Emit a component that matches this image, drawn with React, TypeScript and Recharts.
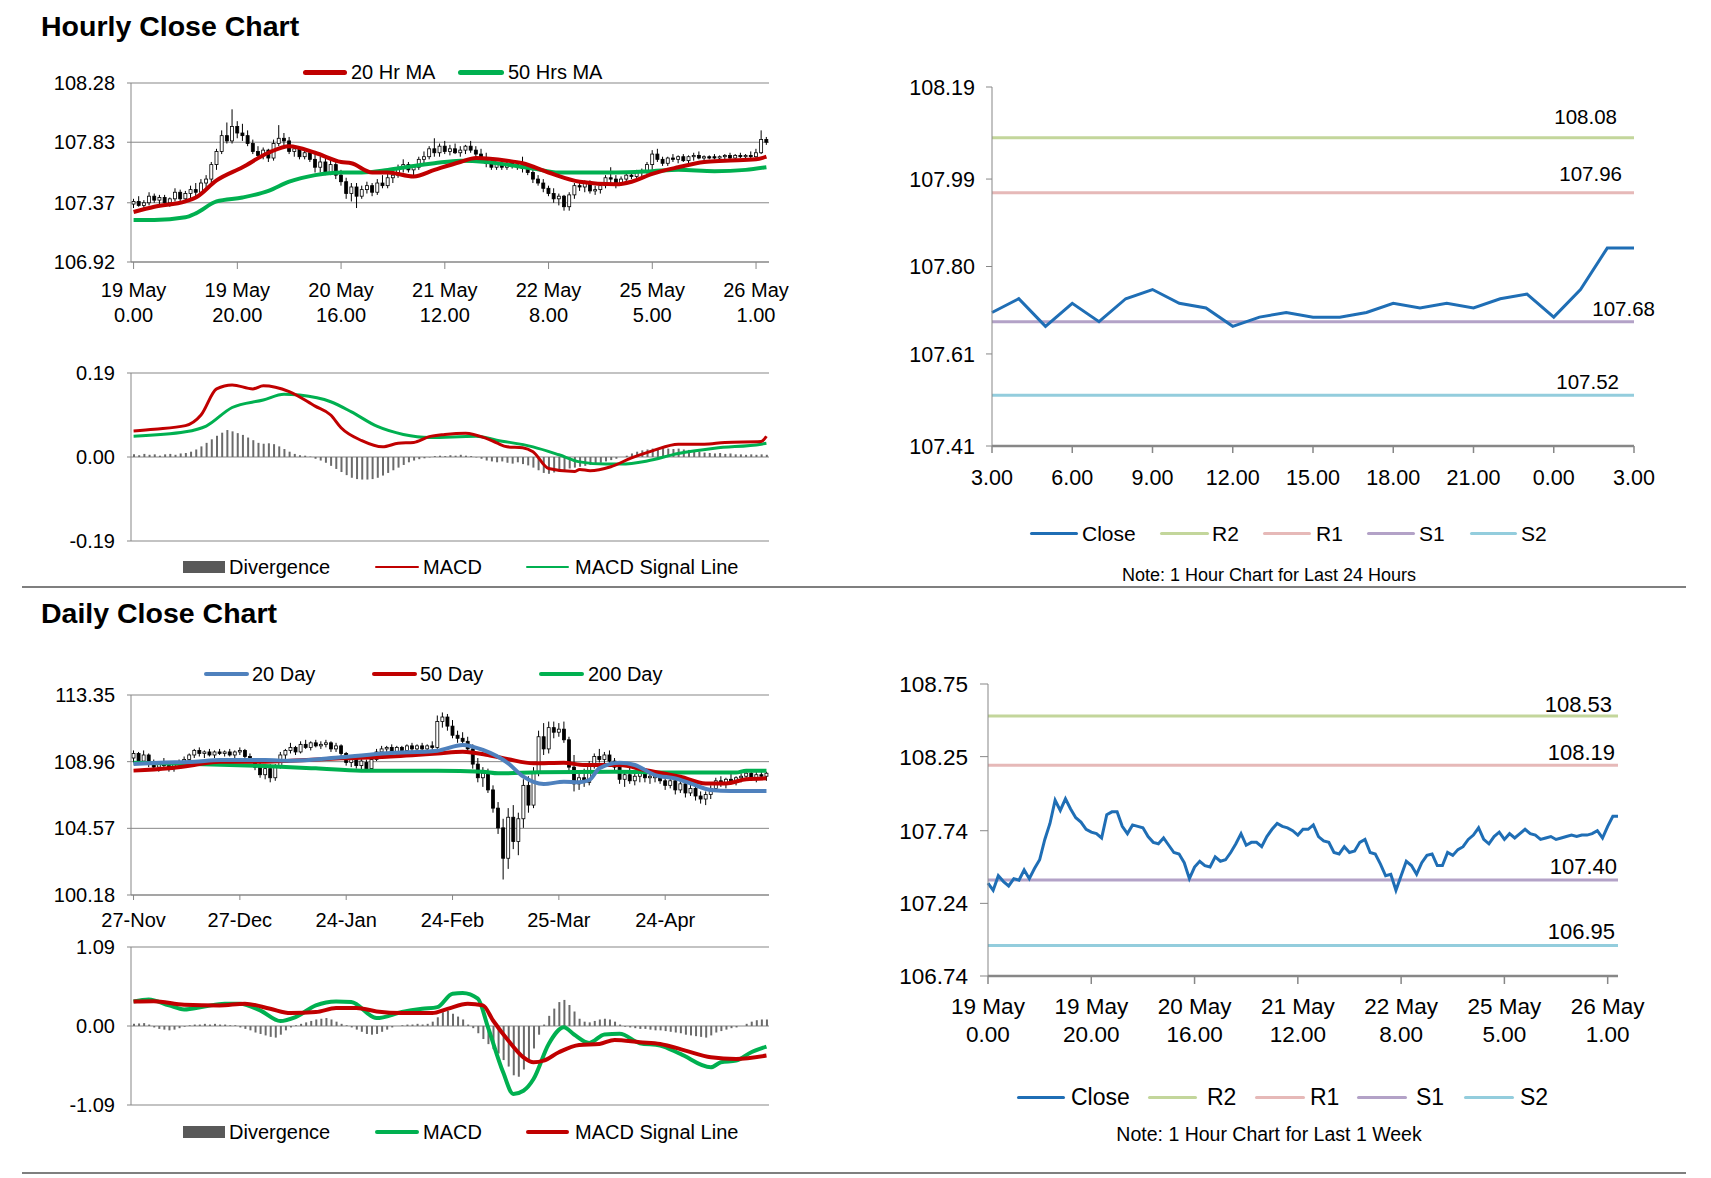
import React from 'react'
import {
  ComposedChart,
  LineChart,
  Line,
  Bar,
  XAxis,
  YAxis,
  CartesianGrid,
  ReferenceLine,
} from 'recharts'

const FONT = '"Liberation Sans", Arial, Helvetica, sans-serif'
const GRID = '#878787'
const RED = '#C00000'
const GREEN = '#00B050'
const MA_BLUE = '#4F81BD'
const CLOSE_BLUE = '#1F6EB5'
const DIV_GREY = '#6b6b6b'
const LEVEL_COLORS = ['#C3D69B', '#E6B9B8', '#B3A2C7', '#93CDDD']

// ---------- hourly candles (open, high, low, close) ----------
const hourlyCandles: number[][] = [
  [107.36, 107.4, 107.33, 107.38], [107.38, 107.42, 107.34, 107.35], [107.35, 107.39, 107.32, 107.37],
  [107.37, 107.45, 107.35, 107.42], [107.42, 107.44, 107.37, 107.39], [107.39, 107.43, 107.36, 107.41],
  [107.41, 107.43, 107.35, 107.37], [107.37, 107.41, 107.34, 107.4], [107.4, 107.48, 107.38, 107.45],
  [107.45, 107.47, 107.38, 107.4], [107.4, 107.46, 107.37, 107.44], [107.44, 107.5, 107.4, 107.47],
  [107.47, 107.52, 107.42, 107.45], [107.45, 107.55, 107.43, 107.52], [107.52, 107.58, 107.48, 107.55],
  [107.55, 107.68, 107.52, 107.66], [107.66, 107.78, 107.62, 107.76], [107.76, 107.92, 107.74, 107.88],
  [107.88, 107.98, 107.82, 107.84], [107.84, 108.08, 107.82, 107.95], [107.95, 107.99, 107.86, 107.9],
  [107.9, 107.97, 107.84, 107.88], [107.88, 107.92, 107.8, 107.82], [107.82, 107.85, 107.74, 107.76],
  [107.76, 107.8, 107.71, 107.73], [107.73, 107.79, 107.7, 107.77], [107.77, 107.78, 107.68, 107.71],
  [107.71, 107.85, 107.69, 107.82], [107.82, 107.96, 107.8, 107.86], [107.86, 107.9, 107.8, 107.84],
  [107.84, 107.87, 107.74, 107.76], [107.76, 107.8, 107.72, 107.78], [107.78, 107.8, 107.7, 107.72],
  [107.72, 107.78, 107.7, 107.75], [107.75, 107.77, 107.68, 107.7], [107.7, 107.74, 107.6, 107.64],
  [107.64, 107.72, 107.6, 107.68], [107.68, 107.72, 107.58, 107.6], [107.6, 107.7, 107.58, 107.66],
  [107.66, 107.68, 107.55, 107.58], [107.58, 107.62, 107.5, 107.53], [107.53, 107.56, 107.4, 107.44],
  [107.44, 107.52, 107.38, 107.49], [107.49, 107.52, 107.33, 107.42], [107.42, 107.5, 107.4, 107.47],
  [107.47, 107.53, 107.44, 107.5], [107.5, 107.52, 107.42, 107.45], [107.45, 107.55, 107.43, 107.52],
  [107.52, 107.58, 107.48, 107.5], [107.5, 107.6, 107.48, 107.56], [107.56, 107.6, 107.52, 107.58],
  [107.58, 107.66, 107.56, 107.63], [107.63, 107.7, 107.6, 107.66], [107.66, 107.68, 107.6, 107.62],
  [107.62, 107.66, 107.58, 107.64], [107.64, 107.72, 107.62, 107.7], [107.7, 107.76, 107.66, 107.72],
  [107.72, 107.8, 107.7, 107.78], [107.78, 107.86, 107.72, 107.75], [107.75, 107.82, 107.72, 107.8],
  [107.8, 107.84, 107.74, 107.76], [107.76, 107.81, 107.73, 107.78], [107.78, 107.82, 107.74, 107.75],
  [107.75, 107.8, 107.72, 107.77], [107.77, 107.81, 107.74, 107.8], [107.8, 107.84, 107.75, 107.77],
  [107.77, 107.8, 107.72, 107.74], [107.74, 107.78, 107.68, 107.7], [107.7, 107.75, 107.64, 107.67],
  [107.67, 107.7, 107.62, 107.64], [107.64, 107.68, 107.62, 107.66], [107.66, 107.68, 107.62, 107.64],
  [107.64, 107.7, 107.62, 107.67], [107.67, 107.69, 107.63, 107.65], [107.65, 107.68, 107.62, 107.66],
  [107.66, 107.72, 107.6, 107.63], [107.63, 107.66, 107.58, 107.6], [107.6, 107.64, 107.52, 107.55],
  [107.55, 107.58, 107.5, 107.52], [107.52, 107.55, 107.45, 107.48], [107.48, 107.5, 107.42, 107.44],
  [107.44, 107.48, 107.37, 107.4], [107.4, 107.44, 107.35, 107.42], [107.42, 107.43, 107.31, 107.34],
  [107.34, 107.45, 107.31, 107.43], [107.43, 107.52, 107.4, 107.5], [107.5, 107.53, 107.46, 107.49],
  [107.49, 107.54, 107.45, 107.52], [107.52, 107.54, 107.44, 107.46], [107.46, 107.5, 107.43, 107.47],
  [107.47, 107.52, 107.44, 107.5], [107.5, 107.58, 107.48, 107.56], [107.56, 107.64, 107.52, 107.55],
  [107.55, 107.58, 107.48, 107.52], [107.52, 107.57, 107.5, 107.55], [107.55, 107.6, 107.53, 107.58],
  [107.58, 107.6, 107.55, 107.57], [107.57, 107.62, 107.55, 107.6], [107.6, 107.63, 107.57, 107.61],
  [107.61, 107.68, 107.59, 107.66], [107.66, 107.77, 107.62, 107.74], [107.74, 107.78, 107.68, 107.7],
  [107.7, 107.72, 107.65, 107.67], [107.67, 107.72, 107.65, 107.71], [107.71, 107.74, 107.68, 107.7],
  [107.7, 107.73, 107.67, 107.72], [107.72, 107.74, 107.68, 107.69], [107.69, 107.73, 107.67, 107.72],
  [107.72, 107.75, 107.69, 107.73], [107.73, 107.76, 107.7, 107.71], [107.71, 107.73, 107.69, 107.72],
  [107.72, 107.73, 107.7, 107.71], [107.72, 107.74, 107.7, 107.71], [107.71, 107.73, 107.7, 107.72],
  [107.72, 107.74, 107.7, 107.73], [107.73, 107.75, 107.7, 107.71], [107.71, 107.74, 107.7, 107.73],
  [107.73, 107.75, 107.71, 107.72], [107.72, 107.74, 107.69, 107.73], [107.73, 107.76, 107.71, 107.72],
  [107.72, 107.78, 107.7, 107.75], [107.75, 107.92, 107.74, 107.85], [107.85, 107.87, 107.81, 107.83],
]

// moving averages read at candle index: [index, value]
const hourlyMa20: number[][] = [
  [0, 107.3], [4, 107.34], [10, 107.38], [12, 107.41], [16, 107.54], [21, 107.64], [26, 107.75],
  [30, 107.8], [35, 107.75], [40, 107.68], [42, 107.67], [46, 107.6], [49, 107.6], [54, 107.57],
  [58, 107.62], [63, 107.68], [66, 107.71], [72, 107.69], [75, 107.67], [80, 107.6], [86, 107.53],
  [93, 107.51], [96, 107.53], [100, 107.59], [105, 107.64], [110, 107.68], [114, 107.69],
  [120, 107.7], [122, 107.72],
]
const hourlyMa50: number[][] = [
  [0, 107.24], [4, 107.24], [10, 107.26], [12, 107.29], [16, 107.38], [21, 107.41], [26, 107.46],
  [30, 107.53], [35, 107.58], [40, 107.6], [44, 107.6], [49, 107.62], [54, 107.65], [58, 107.67],
  [63, 107.69], [68, 107.68], [72, 107.66], [77, 107.63], [82, 107.6], [86, 107.6], [93, 107.6],
  [100, 107.61], [105, 107.62], [112, 107.61], [118, 107.62], [122, 107.64],
]
const hourlyTicks = [0, 20, 40, 60, 80, 100, 120]
const hourlyTickLabels = [
  ['19 May', '0.00'], ['19 May', '20.00'], ['20 May', '16.00'], ['21 May', '12.00'],
  ['22 May', '8.00'], ['25 May', '5.00'], ['26 May', '1.00'],
]

// ---------- hourly MACD ----------
const hourlyDivergence = [
  0.006, 0.004, 0.007, 0.005, 0.006, 0.003, 0.006, 0.007, 0.005, 0.008,
  0.009, 0.012, 0.017, 0.024, 0.032, 0.04, 0.048, 0.055, 0.061, 0.058,
  0.054, 0.05, 0.044, 0.038, 0.032, 0.03, 0.031, 0.029, 0.024, 0.018,
  0.012, 0.007, 0.004, 0.003, 0.001, -0.004, -0.008, -0.013, -0.02, -0.027,
  -0.034, -0.041, -0.047, -0.05, -0.051, -0.051, -0.05, -0.047, -0.042, -0.036,
  -0.03, -0.024, -0.018, -0.012, -0.008, -0.005, -0.003, -0.001, 0.002, 0.003,
  0.002, 0.004, 0.003, 0.005, 0.003, 0.002, -0.001, -0.004, -0.008, -0.01,
  -0.012, -0.01, -0.013, -0.015, -0.012, -0.016, -0.019, -0.024, -0.03, -0.036,
  -0.038, -0.035, -0.033, -0.03, -0.026, -0.024, -0.022, -0.02, -0.018, -0.016,
  -0.013, -0.01, -0.007, -0.004, 0.0, 0.003, 0.008, 0.012, 0.015, 0.017,
  0.019, 0.018, 0.02, 0.019, 0.018, 0.019, 0.017, 0.016, 0.014, 0.012,
  0.01, 0.009, 0.008, 0.009, 0.007, 0.008, 0.006, 0.006, 0.005, 0.006,
  0.005, 0.006, 0.005,
]
const hourlyMacd: number[][] = [
  [0, 0.059], [4, 0.063], [10, 0.071], [13, 0.095], [16, 0.154], [19, 0.163], [23, 0.154],
  [25, 0.161], [30, 0.148], [35, 0.115], [38, 0.095], [40, 0.066], [44, 0.037], [48, 0.023],
  [51, 0.031], [54, 0.033], [57, 0.046], [60, 0.051], [64, 0.054], [68, 0.042], [70, 0.032],
  [72, 0.023], [75, 0.021], [77, 0.012], [80, -0.026], [85, -0.033], [86, -0.028], [88, -0.031],
  [92, -0.022], [96, -0.002], [100, 0.014], [105, 0.029], [110, 0.029], [114, 0.033],
  [121, 0.035], [122, 0.047],
]
const hourlySignal: number[][] = [
  [0, 0.047], [10, 0.057], [14, 0.07], [19, 0.112], [25, 0.129], [29, 0.142], [32, 0.14],
  [38, 0.125], [42, 0.102], [47, 0.069], [52, 0.051], [57, 0.044], [66, 0.047], [70, 0.038],
  [77, 0.023], [82, 0.005], [86, -0.011], [91, -0.016], [94, -0.016], [99, -0.009],
  [105, 0.008], [112, 0.02], [121, 0.029], [122, 0.031],
]

// ---------- last 24 hours ----------
const hours24 = [
  '3.00', '4.00', '5.00', '6.00', '7.00', '8.00', '9.00', '10.00', '11.00', '12.00', '13.00',
  '14.00', '15.00', '16.00', '17.00', '18.00', '19.00', '20.00', '21.00', '22.00', '23.00',
  '0.00', '1.00', '2.00', '3.00',
]
const close24 = [
  107.7, 107.73, 107.67, 107.72, 107.68, 107.73, 107.75, 107.72, 107.71, 107.67, 107.69,
  107.7, 107.69, 107.69, 107.7, 107.72, 107.71, 107.72, 107.71, 107.73, 107.74,
  107.69, 107.75, 107.84, 107.84,
]
const levelNames = ['R2', 'R1', 'S1', 'S2']
const levels24 = [108.08, 107.96, 107.68, 107.52]

// ---------- last week ----------
const closeWeek = [
  107.38, 107.33, 107.43, 107.39, 107.36, 107.41, 107.4, 107.47, 107.41, 107.48,
  107.54, 107.68, 107.79, 107.95, 107.88, 107.96, 107.89, 107.83, 107.8, 107.75,
  107.73, 107.72, 107.69, 107.85, 107.87, 107.87, 107.77, 107.72, 107.78, 107.77,
  107.76, 107.7, 107.66, 107.65, 107.69, 107.64, 107.59, 107.58, 107.52, 107.41,
  107.49, 107.53, 107.5, 107.49, 107.56, 107.53, 107.54, 107.59, 107.65, 107.72,
  107.64, 107.66, 107.66, 107.63, 107.7, 107.75, 107.79, 107.77, 107.76, 107.74,
  107.71, 107.75, 107.75, 107.78, 107.7, 107.67, 107.66, 107.59, 107.58, 107.63,
  107.59, 107.6, 107.66, 107.68, 107.59, 107.58, 107.51, 107.43, 107.44, 107.33,
  107.43, 107.53, 107.5, 107.44, 107.52, 107.57, 107.58, 107.5, 107.5, 107.59,
  107.57, 107.61, 107.63, 107.68, 107.71, 107.76, 107.68, 107.65, 107.7, 107.73,
  107.68, 107.72, 107.69, 107.72, 107.75, 107.72, 107.71, 107.68, 107.69, 107.7,
  107.68, 107.69, 107.7, 107.71, 107.7, 107.71, 107.71, 107.72, 107.74, 107.69,
  107.77, 107.84, 107.84,
]
const weekTicks = [0, 20, 40, 60, 80, 100, 120]
const weekTickLabels = hourlyTickLabels
const levelsWeek = [108.53, 108.19, 107.4, 106.95]

// ---------- daily candles (open, high, low, close) ----------
const dailyCandles: number[][] = [
  [109.2, 109.7, 108.9, 109.5], [109.5, 109.6, 108.9, 109.0], [109.0, 109.7, 108.8, 109.4], [109.4, 109.5, 108.6, 108.8],
  [108.8, 109.1, 108.4, 108.6], [108.6, 109.0, 108.3, 108.9], [108.9, 109.2, 108.5, 108.7], [108.7, 108.9, 108.3, 108.5],
  [108.5, 109.0, 108.3, 108.8], [108.8, 109.1, 108.5, 108.9], [108.9, 109.3, 108.6, 109.1], [109.1, 109.5, 108.9, 109.4],
  [109.4, 109.8, 109.2, 109.7], [109.7, 109.9, 109.3, 109.5], [109.5, 109.7, 109.2, 109.6], [109.6, 109.8, 109.3, 109.4],
  [109.4, 109.7, 109.2, 109.6], [109.6, 109.8, 109.4, 109.5], [109.5, 109.7, 109.3, 109.6], [109.6, 109.8, 109.3, 109.4],
  [109.4, 109.7, 109.2, 109.6], [109.6, 109.9, 109.4, 109.7], [109.7, 109.8, 109.2, 109.3], [109.3, 109.5, 108.9, 109.1],
  [109.1, 109.2, 108.4, 108.6], [108.6, 108.9, 107.9, 108.1], [108.1, 108.7, 107.8, 108.5], [108.5, 108.8, 107.6, 107.9],
  [107.9, 108.8, 107.7, 108.7], [108.7, 109.6, 108.5, 109.4], [109.4, 109.8, 109.1, 109.7], [109.7, 110.2, 109.5, 109.9],
  [109.9, 110.0, 109.4, 109.6], [109.6, 110.3, 109.5, 110.1], [110.1, 110.4, 109.8, 109.9], [109.9, 110.3, 109.7, 110.2],
  [110.2, 110.4, 109.9, 110.0], [110.0, 110.3, 109.8, 110.1], [110.1, 110.4, 109.9, 110.2], [110.2, 110.3, 109.6, 109.8],
  [109.8, 110.2, 109.6, 110.0], [110.0, 110.1, 109.3, 109.5], [109.5, 109.6, 108.7, 108.9], [108.9, 109.3, 108.6, 109.1],
  [109.1, 109.3, 108.5, 108.7], [108.7, 109.2, 108.4, 109.0], [108.9, 109.1, 108.3, 108.5], [108.5, 109.3, 108.4, 109.1],
  [109.1, 109.8, 109.0, 109.6], [109.6, 110.0, 109.4, 109.8], [109.8, 110.0, 109.5, 109.9], [109.9, 110.1, 109.4, 109.6],
  [109.6, 110.0, 109.4, 109.9], [109.9, 110.0, 109.5, 109.7], [109.7, 110.1, 109.5, 110.0], [110.0, 110.2, 109.6, 109.8],
  [109.8, 110.1, 109.5, 110.0], [110.0, 110.2, 109.7, 109.8], [109.8, 110.1, 109.6, 110.0], [110.0, 110.3, 109.7, 109.9],
  [109.9, 112.0, 109.8, 111.6], [111.6, 112.2, 111.2, 111.9], [111.9, 112.1, 111.0, 111.3], [111.3, 111.7, 110.5, 110.7],
  [110.7, 111.0, 110.2, 110.5], [110.5, 110.9, 110.1, 110.3], [110.3, 110.6, 109.6, 109.8], [109.8, 110.1, 108.5, 108.8],
  [108.8, 109.2, 107.6, 107.9], [107.9, 108.6, 107.3, 108.2], [108.2, 108.5, 106.9, 107.1], [107.1, 107.4, 105.6, 105.9],
  [105.9, 106.3, 104.2, 104.6], [104.6, 105.2, 101.2, 102.6], [102.6, 105.9, 101.9, 105.3], [105.3, 106.1, 103.2, 103.7],
  [103.7, 105.6, 102.8, 105.2], [105.2, 107.8, 104.6, 107.4], [107.4, 108.0, 105.6, 106.1], [106.1, 108.6, 105.9, 108.3],
  [108.3, 111.0, 108.0, 110.6], [110.6, 111.5, 109.4, 109.8], [109.8, 111.6, 109.5, 111.2], [111.2, 111.6, 110.5, 110.9],
  [110.9, 111.5, 110.6, 111.1], [111.1, 111.6, 110.2, 110.4], [110.4, 110.6, 108.3, 108.6], [108.6, 109.4, 107.0, 107.5],
  [107.5, 108.2, 107.1, 107.9], [107.9, 108.5, 107.3, 107.6], [107.6, 109.0, 107.4, 108.8], [108.8, 109.5, 108.5, 109.3],
  [109.3, 109.8, 108.9, 109.1], [109.1, 109.6, 108.7, 109.4], [109.4, 109.7, 108.8, 109.0], [109.0, 109.2, 108.3, 108.6],
  [108.6, 108.8, 107.5, 107.8], [107.8, 108.4, 107.3, 108.1], [108.1, 108.6, 107.5, 107.7], [107.7, 108.3, 107.4, 108.0],
  [108.0, 108.5, 107.6, 108.3], [108.3, 108.5, 107.6, 107.9], [107.9, 108.2, 107.5, 108.0], [107.9, 108.3, 107.6, 108.1],
  [108.1, 108.2, 107.5, 107.7], [107.7, 108.0, 107.1, 107.4], [107.4, 107.9, 107.2, 107.7], [107.7, 107.9, 106.8, 107.1],
  [107.1, 107.7, 106.9, 107.5], [107.5, 107.6, 106.6, 106.9], [106.9, 107.5, 106.7, 107.2], [107.2, 107.3, 106.4, 106.7],
  [106.7, 107.0, 106.2, 106.5], [106.5, 107.0, 106.1, 106.8], [106.8, 107.4, 106.5, 107.2], [107.2, 107.9, 107.0, 107.7],
  [107.7, 108.0, 107.3, 107.5], [107.5, 107.9, 107.2, 107.8], [107.8, 108.2, 107.5, 107.7], [107.7, 108.0, 107.4, 107.9],
  [107.9, 108.2, 107.6, 108.0], [108.0, 108.4, 107.7, 108.2], [108.2, 108.3, 107.7, 107.9], [107.9, 108.3, 107.6, 108.1],
  [108.1, 108.4, 107.8, 108.0], [108.0, 108.3, 107.7, 108.2],
]
const dailyMa20: number[][] = [
  [0, 108.81], [5, 108.89], [12, 108.96], [17, 109.07], [26, 109.07], [31, 109.02], [41, 109.25],
  [50, 109.51], [60, 109.68], [65, 110.06], [69, 109.73], [74, 108.85], [77, 107.97], [81, 107.49],
  [85, 107.64], [88, 107.6], [90, 107.75], [92, 108.52], [96, 108.89], [99, 108.74], [103, 108.08],
  [107, 107.86], [110, 107.53], [114, 107.09], [118, 107.03], [125, 107.03],
]
const dailyMa50: number[][] = [
  [0, 108.37], [7, 108.52], [12, 108.74], [17, 108.96], [26, 108.96], [31, 109.02], [41, 109.18],
  [50, 109.29], [60, 109.5], [65, 109.62], [70, 109.4], [74, 109.12], [79, 108.85], [85, 108.89],
  [89, 108.74], [96, 108.74], [101, 108.41], [108, 107.97], [113, 107.53], [117, 107.53],
  [121, 107.8], [125, 107.86],
]
const dailyMa200: number[][] = [
  [0, 108.89], [12, 108.81], [26, 108.67], [36, 108.52], [45, 108.37], [60, 108.37], [69, 108.3],
  [72, 108.19], [80, 108.26], [95, 108.3], [108, 108.24], [119, 108.24], [121, 108.37], [125, 108.37],
]
const dailyTicks = [0, 21, 42, 63, 84, 105]
const dailyTickLabels = ['27-Nov', '27-Dec', '24-Jan', '24-Feb', '25-Mar', '24-Apr']

// ---------- daily MACD ----------
const dailyDivergence = [
  0.03, 0.035, 0.04, 0.02, -0.02, -0.04, -0.05, -0.06, -0.05, -0.03,
  -0.01, 0.01, 0.02, 0.02, 0.03, 0.02, 0.03, 0.02, 0.02, 0.01, 0.01,
  -0.02, -0.04, -0.06, -0.09, -0.11, -0.13, -0.15, -0.16, -0.12, -0.06,
  -0.02, 0.01, 0.03, 0.05, 0.07, 0.09, 0.1, 0.11, 0.09, 0.06,
  0.03, 0.01, -0.02, -0.05, -0.08, -0.11, -0.12, -0.11, -0.08, -0.05,
  -0.02, 0.0, 0.01, 0.02, 0.02, 0.03, 0.02, 0.03, 0.06, 0.12, 0.19, 0.21, 0.17,
  0.13, 0.09, 0.02, -0.03, -0.1, -0.18, -0.25, -0.32, -0.38, -0.47, -0.56, -0.68, -0.7, -0.6, -0.49, -0.31,
  -0.12, 0.02, 0.14, 0.24, 0.33, 0.36, 0.29, 0.2,
  0.1, 0.06, 0.05, 0.07, 0.09, 0.1, 0.09, 0.06,
  0.02, -0.01, -0.02, -0.03, -0.04,
  -0.04, -0.05, -0.06, -0.06, -0.07, -0.08, -0.09, -0.1, -0.12, -0.13, -0.14, -0.15, -0.16, -0.13,
  -0.09, -0.07, -0.05, -0.03, -0.02, 0.0, 0.03, 0.06, 0.08, 0.09, 0.09,
]
const dailyMacd: number[][] = [
  [0, 0.338], [3, 0.367], [7, 0.284], [10, 0.229], [14, 0.27], [18, 0.308], [21, 0.308], [25, 0.215],
  [29, 0.068], [32, 0.123], [36, 0.284], [40, 0.339], [43, 0.33], [48, 0.109], [53, 0.192],
  [57, 0.237], [60, 0.261], [63, 0.446], [65, 0.455], [68, 0.377], [70, -0.017], [73, -0.639],
  [75, -0.938], [77, -0.893], [79, -0.731], [82, -0.247], [85, -0.017], [87, -0.117], [90, -0.233],
  [93, -0.117], [96, -0.108], [100, -0.237], [104, -0.269], [108, -0.385], [114, -0.57],
  [116, -0.501], [119, -0.478], [122, -0.362], [125, -0.284],
]
const dailySignal: number[][] = [
  [0, 0.338], [4, 0.343], [10, 0.294], [17, 0.284], [22, 0.308], [27, 0.237], [31, 0.178],
  [36, 0.192], [40, 0.247], [44, 0.25], [48, 0.201], [53, 0.178], [59, 0.18], [62, 0.237],
  [66, 0.308], [69, 0.284], [71, 0.076], [74, -0.2], [77, -0.432], [79, -0.501], [81, -0.478],
  [84, -0.362], [88, -0.261], [92, -0.247], [95, -0.192], [100, -0.224], [104, -0.247],
  [109, -0.339], [114, -0.432], [119, -0.454], [125, -0.408],
]

// ---------- helpers ----------
const pick = (pts: number[][], i: number) => {
  const p = pts.find((q) => q[0] === i)
  return p ? p[1] : null
}

const hourlyRows = hourlyCandles.map((c, i) => ({
  i, o: c[0], h: c[1], l: c[2], c: c[3], range: [c[2], c[1]],
  ma20: pick(hourlyMa20, i), ma50: pick(hourlyMa50, i),
}))
const hourlyMacdRows = hourlyDivergence.map((d, i) => ({
  i, div: d, macd: pick(hourlyMacd, i), signal: pick(hourlySignal, i),
}))
const dailyRows = dailyCandles.map((c, i) => ({
  i, o: c[0], h: c[1], l: c[2], c: c[3], range: [c[2], c[1]],
  ma20: pick(dailyMa20, i), ma50: pick(dailyMa50, i), ma200: pick(dailyMa200, i),
}))
const dailyMacdRows = dailyDivergence.map((d, i) => ({
  i, div: d, macd: pick(dailyMacd, i), signal: pick(dailySignal, i),
}))
const rows24 = close24.map((v, i) => ({ i, close: v }))
const rowsWeek = closeWeek.map((v, i) => ({ i, close: v }))

const fmt = (v: number) => v.toFixed(2)

const Candle = (props: any) => {
  const { x, y, width, height, payload } = props
  if (x == null || !payload) return null
  const top = Math.min(y, y + height)
  const hh = Math.abs(height)
  const span = payload.h - payload.l || 1
  const py = (v: number) => top + ((payload.h - v) / span) * hh
  const yo = py(payload.o)
  const yc = py(payload.c)
  const cx = x + width / 2
  const up = payload.c >= payload.o
  return (
    <g>
      <line x1={cx} x2={cx} y1={top} y2={top + hh} stroke="#000" strokeWidth={1} />
      <rect
        x={x}
        y={Math.min(yo, yc)}
        width={width}
        height={Math.max(Math.abs(yc - yo), 1)}
        fill={up ? '#fff' : '#000'}
        stroke="#000"
        strokeWidth={0.8}
      />
    </g>
  )
}

const TwoLineTick = (props: any) => {
  const { x, y, payload, ticks, labels, fs, d1, d2 } = props
  const k = ticks.indexOf(payload.value)
  if (k < 0) return null
  return (
    <text x={x} y={y} textAnchor="middle" fontSize={fs} fontFamily={FONT} fill="#000">
      <tspan x={x} dy={d1}>{labels[k][0]}</tspan>
      <tspan x={x} dy={d2}>{labels[k][1]}</tspan>
    </text>
  )
}

const OneLineTick = (props: any) => {
  const { x, y, payload, label, fs, d1 } = props
  const text = label(payload.value)
  if (text == null) return null
  return (
    <text x={x} y={y + d1} textAnchor="middle" fontSize={fs} fontFamily={FONT} fill="#000">
      {text}
    </text>
  )
}

const LevelLabel = (props: any) => {
  const { viewBox, text, dx, dy, fs } = props
  if (!viewBox) return null
  return (
    <text
      x={viewBox.x + viewBox.width + dx}
      y={viewBox.y - dy}
      textAnchor="end"
      fontSize={fs}
      fontFamily={FONT}
      fill="#000"
    >
      {text}
    </text>
  )
}

const LegendItem = ({ x0, x1, x2, cy, color, thick, text, fs, box }: any) => (
  <div
    style={{
      position: 'absolute',
      left: x0,
      top: cy - fs / 2,
      height: fs,
      display: 'flex',
      alignItems: 'center',
      fontFamily: FONT,
      fontSize: fs,
      lineHeight: `${fs}px`,
      whiteSpace: 'nowrap',
      color: '#000',
    }}
  >
    <span
      style={{
        display: 'inline-block',
        width: x1 - x0,
        height: box ? 12 : thick,
        background: color,
        marginRight: x2 - x1,
        borderRadius: box ? 0 : thick / 2,
      }}
    />
    {text}
  </div>
)

const Title = ({ text, top }: any) => (
  <div
    style={{
      position: 'absolute',
      left: 41,
      top,
      fontFamily: FONT,
      fontWeight: 'bold',
      fontSize: 28.5,
      lineHeight: '28px',
      color: '#000',
      whiteSpace: 'nowrap',
    }}
  >
    {text}
  </div>
)

const Note = ({ text, cy, fs }: any) => (
  <div
    style={{
      position: 'absolute',
      left: 1069,
      width: 400,
      top: cy - fs / 2,
      textAlign: 'center',
      fontFamily: FONT,
      fontSize: fs,
      lineHeight: `${fs}px`,
      color: '#000',
      whiteSpace: 'nowrap',
    }}
  >
    {text}
  </div>
)

const Rule = ({ top }: any) => (
  <div style={{ position: 'absolute', left: 22, top, width: 1664, height: 2, background: '#7f7f7f' }} />
)

const axisLine = { stroke: GRID, strokeWidth: 1 }
const yTick = (fs: number) => ({ fontSize: fs, fill: '#000', fontFamily: FONT })

export default function App() {
  return (
    <div
      style={{
        position: 'absolute',
        left: 0,
        top: 0,
        width: 1711,
        height: 1178,
        background: '#fff',
        overflow: 'hidden',
      }}
    >
      <Title text="Hourly Close Chart" top={12} />
      <Title text="Daily Close Chart" top={599} />
      <Rule top={586} />
      <Rule top={1172} />

      {/* hourly price with moving averages */}
      <div style={{ position: 'absolute', left: 0, top: 60 }}>
        <ComposedChart width={800} height={274} data={hourlyRows} margin={{ top: 23, right: 31, bottom: 0, left: 0 }}>
          <CartesianGrid vertical={false} stroke={GRID} />
          <XAxis
            dataKey="i"
            ticks={hourlyTicks}
            interval={0}
            height={72}
            tickSize={7}
            tickMargin={2}
            axisLine={axisLine}
            tickLine={{ stroke: GRID }}
            tick={<TwoLineTick ticks={hourlyTicks} labels={hourlyTickLabels} fs={20} d1={26} d2={25} />}
          />
          <YAxis
            domain={[106.92, 108.28]}
            ticks={[106.92, 107.37, 107.83, 108.28]}
            interval={0}
            allowDataOverflow
            width={131}
            tickSize={4}
            tickMargin={12}
            tickFormatter={fmt}
            axisLine={axisLine}
            tickLine={{ stroke: GRID }}
            tick={yTick(20)}
          />
          <Bar dataKey="range" barSize={3} shape={<Candle />} isAnimationActive={false} />
          <Line dataKey="ma50" type="monotone" stroke={GREEN} strokeWidth={4} dot={false} activeDot={false} connectNulls isAnimationActive={false} />
          <Line dataKey="ma20" type="monotone" stroke={RED} strokeWidth={4} dot={false} activeDot={false} connectNulls isAnimationActive={false} />
        </ComposedChart>
      </div>
      <LegendItem x0={303} x1={347} x2={351} cy={72} color={RED} thick={5} text="20 Hr MA" fs={20} />
      <LegendItem x0={458} x1={504} x2={508} cy={72} color={GREEN} thick={5} text="50 Hrs MA" fs={20} />

      {/* hourly MACD */}
      <div style={{ position: 'absolute', left: 0, top: 340 }}>
        <ComposedChart width={800} height={216} data={hourlyMacdRows} margin={{ top: 33, right: 31, bottom: 15, left: 0 }}>
          <CartesianGrid vertical={false} stroke={GRID} />
          <XAxis dataKey="i" hide />
          <YAxis
            domain={[-0.19, 0.19]}
            ticks={[-0.19, 0, 0.19]}
            interval={0}
            allowDataOverflow
            width={131}
            tickSize={4}
            tickMargin={12}
            tickFormatter={fmt}
            axisLine={axisLine}
            tickLine={{ stroke: GRID }}
            tick={yTick(20)}
          />
          <Bar dataKey="div" barSize={2} fill={DIV_GREY} isAnimationActive={false} />
          <Line dataKey="signal" type="monotone" stroke={GREEN} strokeWidth={3} dot={false} activeDot={false} connectNulls isAnimationActive={false} />
          <Line dataKey="macd" type="monotone" stroke={RED} strokeWidth={3} dot={false} activeDot={false} connectNulls isAnimationActive={false} />
        </ComposedChart>
      </div>
      <LegendItem x0={183} x1={225} x2={229} cy={567} color="#595959" box text="Divergence" fs={20} />
      <LegendItem x0={375} x1={419} x2={423} cy={567} color={RED} thick={2.5} text="MACD" fs={20} />
      <LegendItem x0={526} x1={569} x2={575} cy={567} color={GREEN} thick={2.5} text="MACD Signal Line" fs={20} />

      {/* last 24 hours */}
      <div style={{ position: 'absolute', left: 820, top: 60 }}>
        <LineChart width={840} height={436} data={rows24} margin={{ top: 27, right: 26, bottom: 0, left: 0 }}>
          <XAxis
            dataKey="i"
            ticks={[0, 3, 6, 9, 12, 15, 18, 21, 24]}
            interval={0}
            height={50}
            tickSize={7}
            tickMargin={2}
            axisLine={{ stroke: GRID, strokeWidth: 2.5 }}
            tickLine={{ stroke: GRID, strokeWidth: 1.5 }}
            tick={<OneLineTick label={(v: number) => hours24[v]} fs={21.5} d1={29.5} />}
          />
          <YAxis
            domain={[107.41, 108.19]}
            ticks={[107.41, 107.61, 107.8, 107.99, 108.19]}
            interval={0}
            allowDataOverflow
            width={172}
            tickSize={6}
            tickMargin={11}
            tickFormatter={fmt}
            axisLine={axisLine}
            tickLine={{ stroke: GRID }}
            tick={yTick(21.5)}
          />
          {levels24.map((lv, k) => (
            <ReferenceLine
              key={levelNames[k]}
              y={lv}
              stroke={LEVEL_COLORS[k]}
              strokeWidth={3}
              label={<LevelLabel text={fmt(lv)} dx={[-17, -12, 21, -15][k]} dy={[14, 12, 6, 6.5][k]} fs={20.5} />}
            />
          ))}
          <Line dataKey="close" type="linear" stroke={CLOSE_BLUE} strokeWidth={3} dot={false} activeDot={false} isAnimationActive={false} />
        </LineChart>
      </div>
      <LegendItem x0={1030} x1={1078} x2={1082} cy={533} color={CLOSE_BLUE} thick={3} text="Close" fs={21} />
      {levelNames.map((n, k) => (
        <LegendItem
          key={n}
          x0={[1160, 1263, 1367, 1470][k]}
          x1={[1209, 1311, 1415, 1517][k]}
          x2={[1212, 1316, 1419, 1521][k]}
          cy={533}
          color={LEVEL_COLORS[k]}
          thick={3}
          text={n}
          fs={21}
        />
      ))}
      <Note text="Note: 1 Hour Chart for Last 24 Hours" cy={575} fs={18} />

      {/* daily price with moving averages */}
      <div style={{ position: 'absolute', left: 0, top: 650 }}>
        <ComposedChart width={800} height={290} data={dailyRows} margin={{ top: 45, right: 31, bottom: 0, left: 0 }}>
          <CartesianGrid vertical={false} stroke={GRID} />
          <XAxis
            dataKey="i"
            ticks={dailyTicks}
            interval={0}
            height={45}
            tickSize={5}
            tickMargin={2}
            axisLine={axisLine}
            tickLine={{ stroke: GRID }}
            tick={<OneLineTick label={(v: number) => { const k = dailyTicks.indexOf(v); return k < 0 ? null : dailyTickLabels[k] }} fs={20} d1={25} />}
          />
          <YAxis
            domain={[100.18, 113.35]}
            ticks={[100.18, 104.57, 108.96, 113.35]}
            interval={0}
            allowDataOverflow
            width={131}
            tickSize={4}
            tickMargin={12}
            tickFormatter={fmt}
            axisLine={axisLine}
            tickLine={{ stroke: GRID }}
            tick={yTick(20)}
          />
          <Bar dataKey="range" barSize={3} shape={<Candle />} isAnimationActive={false} />
          <Line dataKey="ma200" type="monotone" stroke={GREEN} strokeWidth={4} dot={false} activeDot={false} connectNulls isAnimationActive={false} />
          <Line dataKey="ma50" type="monotone" stroke={RED} strokeWidth={4} dot={false} activeDot={false} connectNulls isAnimationActive={false} />
          <Line dataKey="ma20" type="monotone" stroke={MA_BLUE} strokeWidth={4} dot={false} activeDot={false} connectNulls isAnimationActive={false} />
        </ComposedChart>
      </div>
      <LegendItem x0={204} x1={249} x2={252} cy={674} color={MA_BLUE} thick={4} text="20 Day" fs={20} />
      <LegendItem x0={372} x1={417} x2={420} cy={674} color={RED} thick={4} text="50 Day" fs={20} />
      <LegendItem x0={539} x1={584} x2={588} cy={674} color={GREEN} thick={4} text="200 Day" fs={20} />

      {/* daily MACD */}
      <div style={{ position: 'absolute', left: 0, top: 920 }}>
        <ComposedChart width={800} height={205} data={dailyMacdRows} margin={{ top: 27, right: 31, bottom: 20, left: 0 }}>
          <CartesianGrid vertical={false} stroke={GRID} />
          <XAxis dataKey="i" hide />
          <YAxis
            domain={[-1.09, 1.09]}
            ticks={[-1.09, 0, 1.09]}
            interval={0}
            allowDataOverflow
            width={131}
            tickSize={4}
            tickMargin={12}
            tickFormatter={fmt}
            axisLine={axisLine}
            tickLine={{ stroke: GRID }}
            tick={yTick(20)}
          />
          <Bar dataKey="div" barSize={2} fill={DIV_GREY} isAnimationActive={false} />
          <Line dataKey="macd" type="monotone" stroke={GREEN} strokeWidth={4} dot={false} activeDot={false} connectNulls isAnimationActive={false} />
          <Line dataKey="signal" type="monotone" stroke={RED} strokeWidth={4} dot={false} activeDot={false} connectNulls isAnimationActive={false} />
        </ComposedChart>
      </div>
      <LegendItem x0={183} x1={225} x2={229} cy={1132} color="#595959" box text="Divergence" fs={20} />
      <LegendItem x0={375} x1={419} x2={423} cy={1132} color={GREEN} thick={4} text="MACD" fs={20} />
      <LegendItem x0={526} x1={569} x2={575} cy={1132} color={RED} thick={4} text="MACD Signal Line" fs={20} />

      {/* last week */}
      <div style={{ position: 'absolute', left: 820, top: 650 }}>
        <LineChart width={830} height={406} data={rowsWeek} margin={{ top: 34, right: 32, bottom: 0, left: 0 }}>
          <XAxis
            dataKey="i"
            ticks={weekTicks}
            interval={0}
            height={80}
            tickSize={8}
            tickMargin={2}
            axisLine={{ stroke: GRID, strokeWidth: 2.5 }}
            tickLine={{ stroke: GRID, strokeWidth: 1.5 }}
            tick={<TwoLineTick ticks={weekTicks} labels={weekTickLabels} fs={22.5} d1={28} d2={28} />}
          />
          <YAxis
            domain={[106.74, 108.75]}
            ticks={[106.74, 107.24, 107.74, 108.25, 108.75]}
            interval={0}
            allowDataOverflow
            width={168}
            tickSize={8}
            tickMargin={12}
            tickFormatter={fmt}
            axisLine={axisLine}
            tickLine={{ stroke: GRID }}
            tick={yTick(22.5)}
          />
          {levelsWeek.map((lv, k) => (
            <ReferenceLine
              key={levelNames[k]}
              y={lv}
              stroke={LEVEL_COLORS[k]}
              strokeWidth={3}
              label={<LevelLabel text={fmt(lv)} dx={[-6, -3, -1, -3][k]} dy={[4, 5.5, 6, 6][k]} fs={22} />}
            />
          ))}
          <Line dataKey="close" type="linear" stroke={CLOSE_BLUE} strokeWidth={3} dot={false} activeDot={false} isAnimationActive={false} />
        </LineChart>
      </div>
      <LegendItem x0={1017} x1={1065} x2={1071} cy={1097} color={CLOSE_BLUE} thick={3} text="Close" fs={23} />
      {levelNames.map((n, k) => (
        <LegendItem
          key={'w' + n}
          x0={[1148, 1255, 1357, 1464][k]}
          x1={[1197, 1305, 1407, 1514][k]}
          x2={[1207, 1310, 1416, 1520][k]}
          cy={1097}
          color={LEVEL_COLORS[k]}
          thick={3}
          text={n}
          fs={23}
        />
      ))}
      <Note text="Note: 1 Hour Chart for Last 1 Week" cy={1135} fs={19.5} />
    </div>
  )
}
